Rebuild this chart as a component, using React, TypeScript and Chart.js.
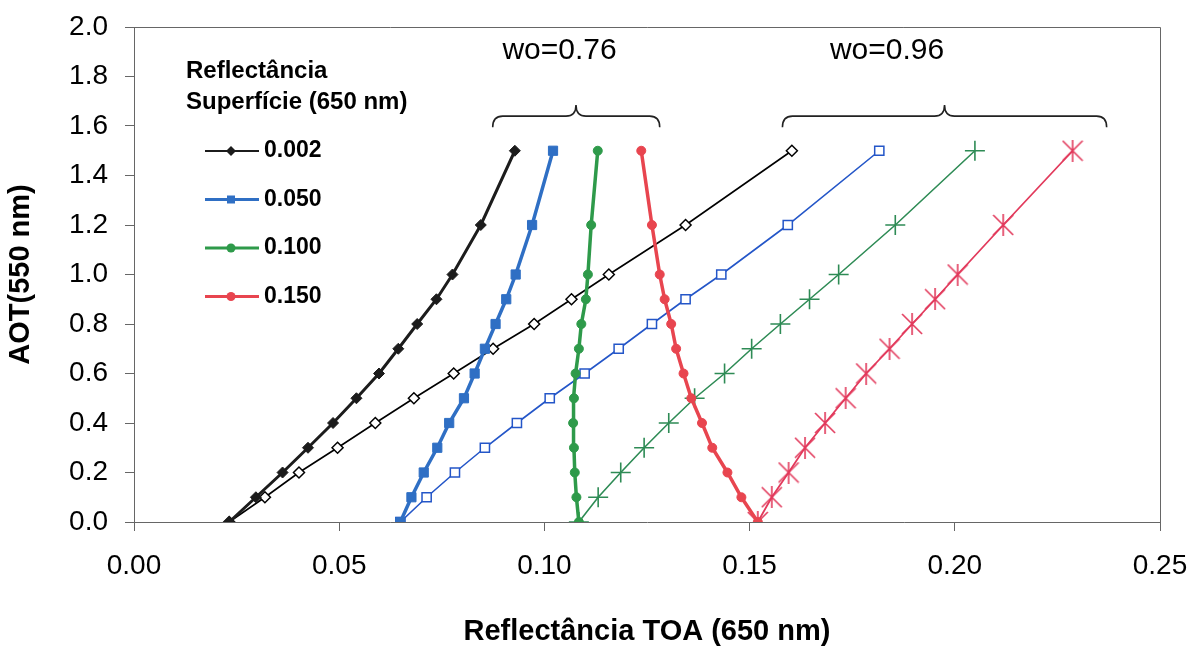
import React, { useEffect, useRef } from "react";
import { Chart, registerables } from "chart.js";

Chart.register(...registerables);

// AOT (550 nm) levels, shared by every series
const aotLevels = [0, 0.1, 0.2, 0.3, 0.4, 0.5, 0.6, 0.7, 0.8, 0.9, 1.0, 1.2, 1.5];

// TOA reflectance (650 nm), single scattering albedo wo = 0.76 (filled markers)
const toa002_w076 = [0.0232, 0.0297, 0.0362, 0.0424, 0.0485, 0.0542, 0.0597, 0.0644, 0.069, 0.0737, 0.0776, 0.0845, 0.0928];
const toa050_w076 = [0.0649, 0.0676, 0.0706, 0.0739, 0.0768, 0.0804, 0.083, 0.0855, 0.0881, 0.0907, 0.093, 0.097, 0.1021];
const toa100_w076 = [0.1084, 0.1078, 0.1074, 0.1072, 0.107, 0.1072, 0.1076, 0.1084, 0.109, 0.1101, 0.1106, 0.1114, 0.113];
const toa150_w076 = [0.152, 0.148, 0.1446, 0.1409, 0.1384, 0.1358, 0.1339, 0.1321, 0.1309, 0.1293, 0.1281, 0.1262, 0.1236];

// TOA reflectance (650 nm), wo = 0.96 (open / cross markers)
const toa002_w096 = [0.0232, 0.0319, 0.0402, 0.0496, 0.0588, 0.0682, 0.0779, 0.0875, 0.0975, 0.1066, 0.1157, 0.1344, 0.1603];
const toa050_w096 = [0.0649, 0.0713, 0.0782, 0.0855, 0.0933, 0.1013, 0.1098, 0.1181, 0.1262, 0.1344, 0.1431, 0.1593, 0.1816];
const toa100_w096 = [0.1084, 0.1131, 0.1186, 0.1243, 0.1303, 0.1366, 0.1439, 0.1505, 0.1575, 0.1646, 0.1717, 0.1855, 0.2049];
const toa150_w096 = [0.152, 0.1554, 0.1595, 0.1635, 0.1684, 0.1734, 0.1784, 0.1841, 0.1896, 0.1952, 0.2007, 0.2118, 0.2287];

const legendTitle = ["Reflectância", "Superfície (650 nm)"];
const legendLabels = ["0.002", "0.050", "0.100", "0.150"];
const xTitle = "Reflectância TOA (650 nm)";
const yTitle = "AOT(550 nm)";
const annotLabels = ["wo=0.76", "wo=0.96"];

const FONT = "'Liberation Sans', Arial, sans-serif";

const toPoints = (xs: number[]) => xs.map((x, i) => ({ x, y: aotLevels[i] }));

function makeAsterisk(color: string, size: number, lw: number) {
  const c = document.createElement("canvas");
  c.width = size;
  c.height = size;
  const ctx = c.getContext("2d")!;
  ctx.strokeStyle = color;
  ctx.lineWidth = lw;
  const h = size / 2;
  const r = h - 1;
  ctx.beginPath();
  ctx.moveTo(h - r, h - r);
  ctx.lineTo(h + r, h + r);
  ctx.moveTo(h + r, h - r);
  ctx.lineTo(h - r, h + r);
  ctx.moveTo(h, h - r - 1);
  ctx.lineTo(h, h + r + 1);
  ctx.stroke();
  return c;
}

const zeroPad = (s: any) => {
  s.paddingLeft = 0;
  s.paddingRight = 0;
  s.paddingTop = 0;
  s.paddingBottom = 0;
};

export default function App() {
  const ref = useRef<HTMLCanvasElement>(null);

  useEffect(() => {
    document.body.style.margin = "0";
    const canvas = ref.current!;
    const asterisk = makeAsterisk("#e23a5c", 22, 1.6);

    const black = "#1c1c1c";
    const blue = "#2f6fc4";
    const blueOpen = "#2456c8";
    const green = "#2e9a4a";
    const greenOpen = "#2e8b55";
    const red = "#e8454f";

    const deco = {
      id: "deco",
      afterDraw(chart: any) {
        const ctx = chart.ctx;
        const a = chart.chartArea;
        const xs = chart.scales.x;
        const ys = chart.scales.y;
        ctx.save();
        // plot box top/right
        ctx.strokeStyle = "#666";
        ctx.lineWidth = 1;
        ctx.beginPath();
        ctx.moveTo(a.left, a.top + 0.5);
        ctx.lineTo(a.right + 0.5, a.top + 0.5);
        ctx.lineTo(a.right + 0.5, a.bottom);
        ctx.stroke();

        // legend
        ctx.fillStyle = "#000";
        ctx.textBaseline = "middle";
        ctx.textAlign = "left";
        ctx.font = `bold 24px ${FONT}`;
        ctx.fillText(legendTitle[0], 186, 71);
        ctx.fillText(legendTitle[1], 186, 102);
        const cols = [black, blue, green, red];
        const shapes = ["diamond", "square", "circle", "circle"];
        legendLabels.forEach((lab, i) => {
          const y = 151 + i * 48.5;
          ctx.strokeStyle = cols[i];
          ctx.lineWidth = i === 0 ? 2 : 3;
          ctx.beginPath();
          ctx.moveTo(205, y);
          ctx.lineTo(259, y);
          ctx.stroke();
          ctx.fillStyle = cols[i];
          const cx = 231;
          ctx.beginPath();
          if (shapes[i] === "diamond") {
            ctx.moveTo(cx, y - 5);
            ctx.lineTo(cx + 5, y);
            ctx.lineTo(cx, y + 5);
            ctx.lineTo(cx - 5, y);
            ctx.closePath();
          } else if (shapes[i] === "square") {
            ctx.rect(cx - 4, y - 4, 8, 8);
          } else {
            ctx.arc(cx, y, 4.5, 0, Math.PI * 2);
          }
          ctx.fill();
          ctx.fillStyle = "#000";
          ctx.font = `bold 23px ${FONT}`;
          ctx.fillText(lab, 264, y);
        });

        // braces & wo labels (positioned in data units)
        const braces = [
          { x1: 0.0874, x2: 0.1281, xm: 0.1077, tx: 0.1037, label: annotLabels[0] },
          { x1: 0.1580, x2: 0.2370, xm: 0.1975, tx: 0.1835, label: annotLabels[1] },
        ];
        const yEnd = ys.getPixelForValue(1.595);
        const yMid = ys.getPixelForValue(1.64);
        const yTip = ys.getPixelForValue(1.685);
        ctx.strokeStyle = "#222";
        ctx.lineWidth = 1.6;
        braces.forEach((b) => {
          const x1 = xs.getPixelForValue(b.x1);
          const x2 = xs.getPixelForValue(b.x2);
          const xm = xs.getPixelForValue(b.xm);
          const r = 10;
          ctx.beginPath();
          ctx.moveTo(x1, yEnd);
          ctx.quadraticCurveTo(x1, yMid, x1 + r, yMid);
          ctx.lineTo(xm - r, yMid);
          ctx.quadraticCurveTo(xm, yMid, xm, yTip);
          ctx.quadraticCurveTo(xm, yMid, xm + r, yMid);
          ctx.lineTo(x2 - r, yMid);
          ctx.quadraticCurveTo(x2, yMid, x2, yEnd);
          ctx.stroke();
          ctx.fillStyle = "#000";
          ctx.font = `30px ${FONT}`;
          ctx.textAlign = "center";
          ctx.fillText(b.label, xs.getPixelForValue(b.tx), ys.getPixelForValue(1.905));
        });
        ctx.restore();
      },
    };

    const chart = new Chart(canvas, {
      type: "scatter",
      data: {
        datasets: [
          {
            label: "0.002 wo=0.76",
            data: toPoints(toa002_w076),
            showLine: true,
            borderColor: black,
            backgroundColor: black,
            borderWidth: 3,
            pointStyle: "rectRot",
            pointRadius: 5.5,
            pointBorderWidth: 1,
          },
          {
            label: "0.050 wo=0.76",
            data: toPoints(toa050_w076),
            showLine: true,
            borderColor: blue,
            backgroundColor: blue,
            borderWidth: 3.5,
            pointStyle: "rect",
            pointRadius: 6.5,
            pointBorderWidth: 1,
          },
          {
            label: "0.100 wo=0.76",
            data: toPoints(toa100_w076),
            showLine: true,
            borderColor: green,
            backgroundColor: green,
            borderWidth: 3.5,
            pointStyle: "circle",
            pointRadius: 4.5,
            pointBorderWidth: 1,
          },
          {
            label: "0.150 wo=0.76",
            data: toPoints(toa150_w076),
            showLine: true,
            borderColor: red,
            backgroundColor: red,
            borderWidth: 3.5,
            pointStyle: "circle",
            pointRadius: 4.5,
            pointBorderWidth: 1,
          },
          {
            label: "0.002 wo=0.96",
            data: toPoints(toa002_w096),
            showLine: true,
            borderColor: "#000",
            backgroundColor: "#fff",
            borderWidth: 1.6,
            pointStyle: "rectRot",
            pointRadius: 5.5,
            pointBorderWidth: 1.5,
          },
          {
            label: "0.050 wo=0.96",
            data: toPoints(toa050_w096),
            showLine: true,
            borderColor: blueOpen,
            backgroundColor: "#fff",
            borderWidth: 1.6,
            pointStyle: "rect",
            pointRadius: 6.5,
            pointBorderWidth: 1.5,
          },
          {
            label: "0.100 wo=0.96",
            data: toPoints(toa100_w096),
            showLine: true,
            borderColor: greenOpen,
            backgroundColor: greenOpen,
            borderWidth: 1.6,
            pointStyle: "cross",
            pointRadius: 10,
            pointBorderWidth: 1.6,
          },
          {
            label: "0.150 wo=0.96",
            data: toPoints(toa150_w096),
            showLine: true,
            borderColor: "#e23a5c",
            backgroundColor: "#e23a5c",
            borderWidth: 1.8,
            pointStyle: asterisk as any,
            pointRadius: 11,
          },
        ],
      },
      options: {
        animation: false,
        responsive: false,
        devicePixelRatio: 1,
        layout: { padding: { top: 27, right: 34, left: 0, bottom: 0 } },
        plugins: { legend: { display: false }, tooltip: { enabled: false } },
        elements: { line: { tension: 0 } },
        scales: {
          x: {
            type: "linear",
            min: 0,
            max: 0.25,
            ticks: {
              stepSize: 0.05,
              callback: (v: any) => Number(v).toFixed(2),
              font: { size: 28, family: FONT },
              color: "#000",
              padding: 18,
            },
            grid: { display: true, drawOnChartArea: false, drawTicks: true, tickLength: 9, color: "#666" },
            border: { display: true, color: "#666", width: 1 },
            title: {
              display: true,
              text: xTitle,
              font: { size: 29, weight: "bold", family: FONT },
              color: "#000",
              padding: { top: 0, bottom: 0 },
            },
            afterFit: (s: any) => {
              s.height = 127;
              zeroPad(s);
            },
          },
          y: {
            type: "linear",
            min: 0,
            max: 2,
            ticks: {
              stepSize: 0.2,
              callback: (v: any) => Number(v).toFixed(1),
              font: { size: 28, family: FONT },
              color: "#000",
              padding: 17,
            },
            grid: { display: true, drawOnChartArea: false, drawTicks: true, tickLength: 9, color: "#666" },
            border: { display: true, color: "#666", width: 1 },
            title: {
              display: true,
              text: yTitle,
              font: { size: 29, weight: "bold", family: FONT },
              color: "#000",
              padding: { top: 4, bottom: 0 },
            },
            afterFit: (s: any) => {
              s.width = 134;
              zeroPad(s);
            },
          },
        },
      },
      plugins: [deco],
    } as any);

    return () => chart.destroy();
  }, []);

  return (
    <div style={{ position: "absolute", left: 0, top: 0, width: 1194, height: 649, background: "#fff" }}>
      <canvas ref={ref} width={1194} height={649} style={{ display: "block" }} />
    </div>
  );
}
